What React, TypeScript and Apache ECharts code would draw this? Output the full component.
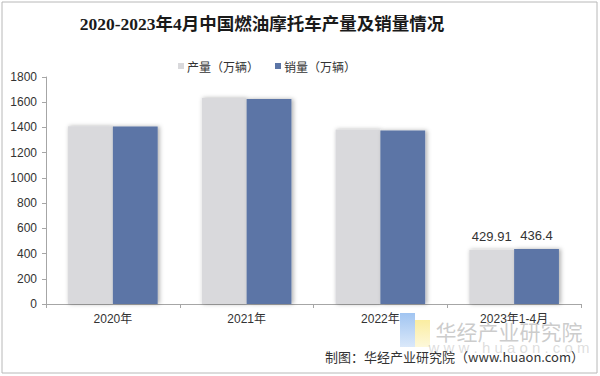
import React, { useEffect, useRef } from "react";
import * as echarts from "echarts";

const categories = ["2020年", "2021年", "2022年", "2023年1-4月"];
const production = [1410, 1634, 1383, 429.91];
const sales = [1407, 1626, 1375, 436.4];
const yTicks = { min: 0, max: 1800, interval: 200 };

export default function App() {
  const ref = useRef<HTMLDivElement>(null);
  useEffect(() => {
    const chart = echarts.init(ref.current!, undefined, { renderer: "svg" });
    const lastIdx = categories.length - 1;
    chart.setOption({
      animation: false,
      backgroundColor: "#ffffff",
      graphic: [
        {
          type: "rect",
          shape: { x: 2, y: 2, width: 595, height: 371 },
          style: { fill: "none", stroke: "#b8b8b8", lineWidth: 1 },
          silent: true,
        },
        {
          type: "text",
          x: 262,
          y: 24,
          style: {
            text: "2020-2023年4月中国燃油摩托车产量及销量情况",
            fontFamily: "Liberation Serif, Noto Sans CJK SC",
            fontSize: 17.5,
            fontWeight: "bold",
            fill: "#1a1a1a",
            align: "center",
            verticalAlign: "middle",
          },
        },
        {
          type: "rect",
          shape: { x: 400, y: 313, width: 15, height: 34 },
          style: {
            fill: new echarts.graphic.LinearGradient(0, 0, 0, 1, [
              { offset: 0, color: "rgba(150,190,240,0.9)" },
              { offset: 1, color: "rgba(150,190,240,0.35)" },
            ]),
          },
          silent: true,
        },
        {
          type: "rect",
          shape: { x: 415, y: 320, width: 15, height: 27 },
          style: {
            fill: new echarts.graphic.LinearGradient(0, 0, 0, 1, [
              { offset: 0, color: "rgba(250,235,150,0.9)" },
              { offset: 1, color: "rgba(250,235,150,0.35)" },
            ]),
          },
          silent: true,
        },
        {
          type: "text",
          x: 509,
          y: 331,
          style: {
            text: "华经产业研究院",
            fontFamily: "Noto Sans CJK SC",
            fontSize: 21,
            fill: "rgba(170,170,170,0.6)",
            align: "center",
            verticalAlign: "middle",
          },
          silent: true,
        },
        {
          type: "text",
          x: 509,
          y: 347,
          style: {
            text: "w w w . h u a o n . c o m",
            fontFamily: "Liberation Sans, Arial",
            fontSize: 15,
            fill: "rgba(170,170,170,0.4)",
            align: "center",
            verticalAlign: "middle",
          },
          silent: true,
        },
        {
          type: "text",
          x: 584,
          y: 356,
          style: {
            text: "制图：华经产业研究院（www.huaon.com）",
            fontFamily: "Noto Sans CJK SC, Liberation Sans",
            fontSize: 13,
            fill: "#333333",
            align: "right",
            verticalAlign: "middle",
          },
        },
      ],
      legend: {
        left: 173,
        top: 55,
        icon: "rect",
        itemWidth: 6,
        itemHeight: 6,
        itemGap: 16,
        itemStyle: { borderWidth: 0 },
        textStyle: {
          fontSize: 12,
          color: "#333333",
          fontFamily: "Noto Sans CJK SC, Liberation Sans",
          padding: [0, 0, 0, -2],
        },
        data: ["产量（万辆）", "销量（万辆）"],
      },
      grid: { left: 46, right: 19, top: 77, bottom: 72, containLabel: false },
      xAxis: {
        type: "category",
        data: categories,
        axisLine: { lineStyle: { color: "#a6a6a6" } },
        axisTick: { show: true, length: 4, lineStyle: { color: "#a6a6a6" } },
        axisLabel: {
          fontSize: 12,
          color: "#333333",
          margin: 9,
          fontFamily: "Liberation Sans, Noto Sans CJK SC",
        },
      },
      yAxis: {
        type: "value",
        min: yTicks.min,
        max: yTicks.max,
        interval: yTicks.interval,
        axisLine: { show: true, lineStyle: { color: "#a6a6a6" } },
        axisTick: { show: true, length: 4, lineStyle: { color: "#a6a6a6" } },
        splitLine: { show: false },
        axisLabel: {
          fontSize: 12,
          color: "#333333",
          margin: 9,
          fontFamily: "Liberation Sans, Arial",
          formatter: (v: number) => String(v),
        },
      },
      series: [
        {
          name: "产量（万辆）",
          type: "bar",
          data: production,
          barGap: "0%",
          barCategoryGap: "33%",
          itemStyle: {
            color: "#d9d9dc",
            shadowColor: "rgba(0,0,0,0.3)",
            shadowBlur: 4,
            shadowOffsetX: 1,
            shadowOffsetY: 0,
          },
          label: {
            show: true,
            position: "top",
            distance: 7,
            fontSize: 13,
            color: "#333333",
            fontFamily: "Liberation Sans, Arial",
            formatter: (p: any) => (p.dataIndex === lastIdx ? String(p.value) : ""),
          },
        },
        {
          name: "销量（万辆）",
          type: "bar",
          data: sales,
          itemStyle: {
            color: "#5b75a6",
            shadowColor: "rgba(0,0,0,0.3)",
            shadowBlur: 4,
            shadowOffsetX: 2,
            shadowOffsetY: 0,
          },
          label: {
            show: true,
            position: "top",
            distance: 7,
            fontSize: 13,
            color: "#333333",
            fontFamily: "Liberation Sans, Arial",
            formatter: (p: any) => (p.dataIndex === lastIdx ? String(p.value) : ""),
          },
        },
      ],
    });
    return () => chart.dispose();
  }, []);
  return (
    <div
      ref={ref}
      style={{ position: "absolute", left: 0, top: 0, width: 600, height: 376 }}
    />
  );
}
